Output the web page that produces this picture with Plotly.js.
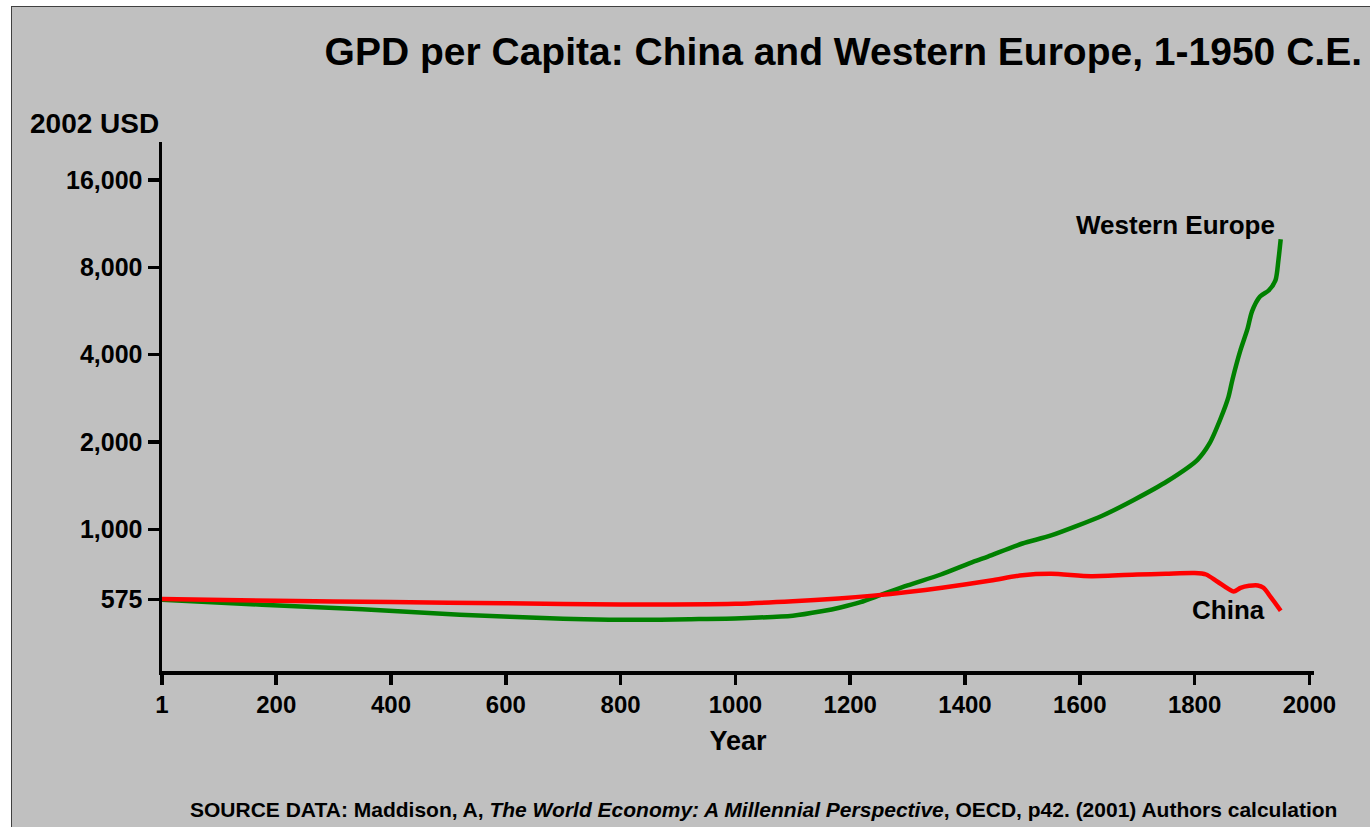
<!DOCTYPE html>
<html>
<head>
<meta charset="utf-8">
<script src="https://cdn.plot.ly/plotly-3.0.1.min.js"></script>
<style>
  html, body { margin: 0; padding: 0; background: #ffffff; width: 1370px; height: 827px; overflow: hidden; }
  #wrap { position: absolute; left: 11px; top: 6px; width: 1358px; height: 820px;
          border-left: 1px solid #404040; border-top: 1px solid #404040; background: #c0c0c0; }
  #chart { width: 1358px; height: 820px; }
</style>
</head>
<body>
<div id="wrap"><div id="chart"></div></div>
<script>
// Data (GDP per capita, 2002 USD)
const chinaYears = [1, 200, 400, 600, 800, 1000, 1100, 1180, 1240, 1300, 1360, 1445, 1500, 1550, 1620, 1700, 1750, 1800, 1820, 1840, 1868, 1880, 1895, 1910, 1920, 1933, 1950];
const chinaValues = [576, 568, 563, 557, 552, 555, 566, 579, 592, 609, 630, 667, 696, 704, 691, 700, 704, 708, 700, 661, 612, 630, 640, 642, 630, 584, 525];

const europeYears = [1, 175, 350, 520, 700, 780, 870, 920, 1010, 1100, 1150, 1183, 1218, 1253, 1300, 1358, 1415, 1440, 1500, 1550, 1640, 1694, 1753, 1805, 1826, 1846, 1859, 1866, 1880, 1892, 1900, 1914, 1929, 1941, 1946, 1950];
const europeValues = [573, 551, 531, 509, 493, 489, 489, 491, 495, 505, 523, 539, 562, 595, 642, 700, 775, 807, 895, 954, 1118, 1264, 1469, 1738, 1978, 2430, 2862, 3286, 4152, 4896, 5641, 6347, 6655, 7223, 8456, 9993];

const xTickVals = [1, 200, 400, 600, 800, 1000, 1200, 1400, 1600, 1800, 2000];
const xTickText = ['1', '200', '400', '600', '800', '1000', '1200', '1400', '1600', '1800', '2000'];
const yTickVals = [575, 1000, 2000, 4000, 8000, 16000];
const yTickText = ['575', '1,000', '2,000', '4,000', '8,000', '16,000'];

const FONT = 'Liberation Sans, Arial, Helvetica, sans-serif';

const traces = [
  { x: europeYears, y: europeValues, type: 'scatter', mode: 'lines', name: 'Western Europe',
    line: { color: '#008000', width: 4.5, shape: 'spline', smoothing: 0.7 }, hoverinfo: 'x+y' },
  { x: chinaYears, y: chinaValues, type: 'scatter', mode: 'lines', name: 'China',
    line: { color: '#ff0000', width: 4.5, shape: 'spline', smoothing: 0.7 }, hoverinfo: 'x+y' }
];

const layout = {
  width: 1358, height: 820,
  paper_bgcolor: '#c0c0c0', plot_bgcolor: '#c0c0c0',
  margin: { l: 150, r: 56, t: 135, b: 156, pad: 0 },
  showlegend: false,
  font: { family: FONT, color: '#000000' },
  title: { text: 'GPD per Capita: China and Western Europe, 1-1950 C.E.',
           font: { family: FONT, size: 39, weight: 'bold', color: '#000' },
           xref: 'container', yref: 'container', x: 0.9941, xanchor: 'right', y: 0.9463, yanchor: 'middle' },
  xaxis: {
    range: [1, 2008], showgrid: false, zeroline: false,
    showline: true, linecolor: '#000', linewidth: 3.5,
    ticks: 'outside', ticklen: 10, tickwidth: 3.5, tickcolor: '#000',
    tickvals: xTickVals, ticktext: xTickText,
    tickfont: { family: FONT, size: 24, weight: 'bold', color: '#000' },
    title: { text: 'Year', font: { family: FONT, size: 27, weight: 'bold', color: '#000' }, standoff: 15 }
  },
  yaxis: {
    type: 'log', range: [2.5128, 4.3344], showgrid: false, zeroline: false,
    showline: true, linecolor: '#000', linewidth: 3.5,
    ticks: 'outside', ticklen: 11, tickwidth: 3.5, tickcolor: '#000',
    tickvals: yTickVals, ticktext: yTickText,
    tickfont: { family: FONT, size: 25, weight: 'bold', color: '#000' }
  },
  annotations: [
    { text: '2002 USD', xref: 'paper', yref: 'paper', x: -0.1163, y: 1.0359, xanchor: 'left', yanchor: 'middle',
      showarrow: false, font: { family: FONT, size: 28, weight: 'bold', color: '#000' } },
    { text: 'Western Europe', xref: 'x', yref: 'paper', x: 1943.6, y: 0.8431, xanchor: 'right', yanchor: 'middle',
      showarrow: false, font: { family: FONT, size: 26, weight: 'bold', color: '#000' } },
    { text: 'China', xref: 'x', yref: 'paper', x: 1925.6, y: 0.1153, xanchor: 'right', yanchor: 'middle',
      showarrow: false, font: { family: FONT, size: 26, weight: 'bold', color: '#000' } },
    { text: 'SOURCE DATA: Maddison, A, <i>The World Economy: A Millennial Perspective</i>, OECD, p42. (2001) Authors calculation',
      xref: 'paper', yref: 'paper', x: 0.0226, y: -0.2609, xanchor: 'left', yanchor: 'middle',
      showarrow: false, font: { family: FONT, size: 21, weight: 'bold', color: '#000' } }
  ]
};

Plotly.newPlot('chart', traces, layout, { displayModeBar: false, staticPlot: true });
</script>
</body>
</html>
